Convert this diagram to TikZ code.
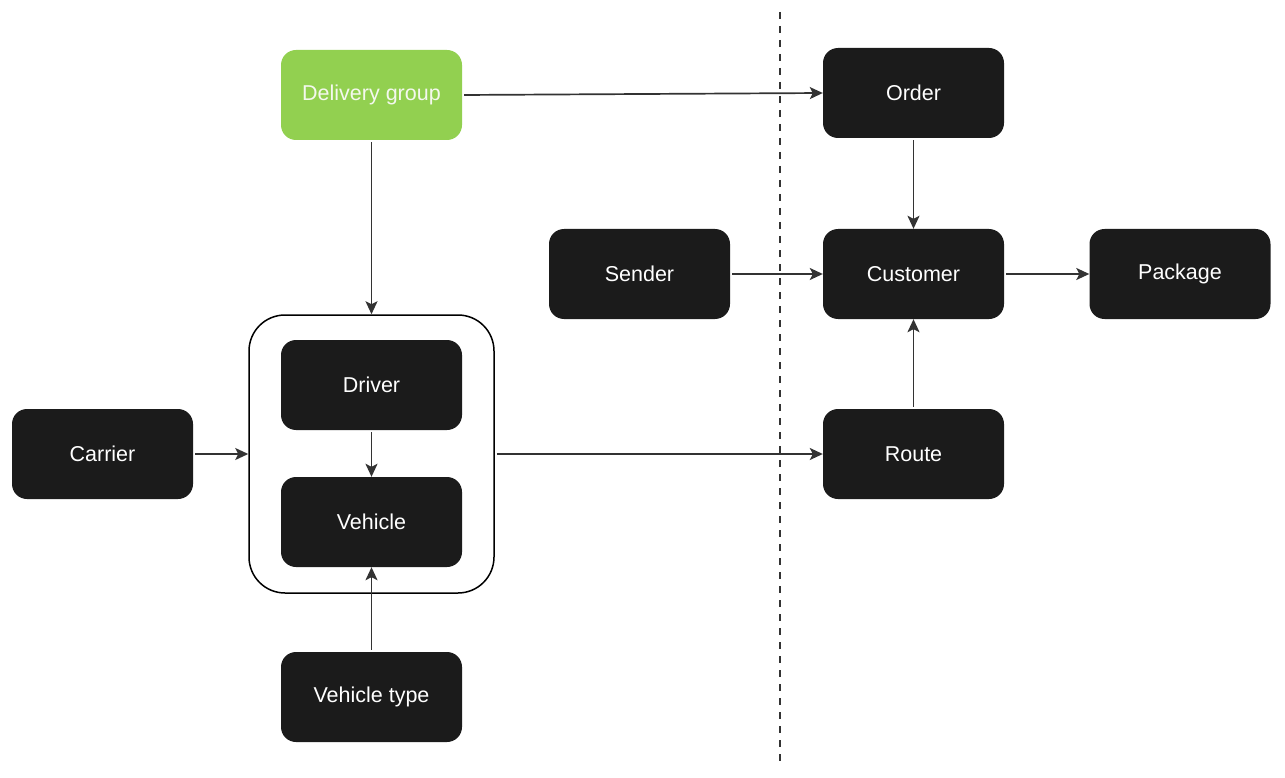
\documentclass[tikz,border=0pt]{standalone}
\usepackage{fontspec}
\setmainfont{Liberation Sans}
\usetikzlibrary{arrows.meta}
\definecolor{boxfill}{HTML}{1B1B1B}
\definecolor{green}{HTML}{92D050}
\definecolor{linec}{HTML}{333333}
\definecolor{lighttext}{HTML}{F4F8EE}
\tikzset{
  box/.style={draw=none, fill=boxfill, rounded corners=15pt, minimum width=181pt, minimum height=90pt, inner sep=0pt, text=white, font=\fontsize{21.5}{25}\selectfont},
  greenbox/.style={box, fill=green, text=lighttext},
  group/.style={draw=black, line width=1.5pt, rounded corners=36pt, minimum width=245pt, minimum height=278pt, inner sep=0pt},
  conn/.style={draw=linec, line width=1.7pt, -{Stealth[length=13pt, width=12pt, inset=3pt]}, shorten <=2pt},
}
\begin{document}
\begin{tikzpicture}[x=1pt, y=-1pt]
\useasboundingbox (0,0) rectangle (1285,778);
% divider
\coordinate (dtop) at (780,12);
\coordinate (dbot) at (780,766);
\draw[linec, line width=1.9pt, dash pattern=on 7pt off 7pt] (dtop) -- (dbot);
% group container
\node[group] (grp) at (371.5,454) {};
% nodes
\node[greenbox] (dg) at (371.5,95) {Delivery group};
\node[box] (order) at (913.5,93) {Order};
\node[box] (sender) at (639.5,274) {Sender};
\node[box] (customer) at (913.5,274) {Customer};
\node[box] (package) at (1180,274) {Package};
\node[box] (carrier) at (102.5,454) {Carrier};
\node[box] (driver) at (371.5,385) {Driver};
\node[box] (vehicle) at (371.5,522) {Vehicle};
\node[box] (route) at (913.5,454) {Route};
\node[box] (vtype) at (371.5,697) {Vehicle type};
% connectors
\draw[conn] (dg.east) -- (order.west);
\draw[conn] (dg.south) -- (grp.north);
\draw[conn] (carrier.east) -- (grp.west);
\draw[conn] (driver.south) -- (vehicle.north);
\draw[conn] (vtype.north) -- (vehicle.south);
\draw[conn] (grp.east) -- (route.west);
\draw[conn] (sender.east) -- (customer.west);
\draw[conn] (customer.east) -- (package.west);
\draw[conn] (order.south) -- (customer.north);
\draw[conn] (route.north) -- (customer.south);
\end{tikzpicture}
\end{document}
